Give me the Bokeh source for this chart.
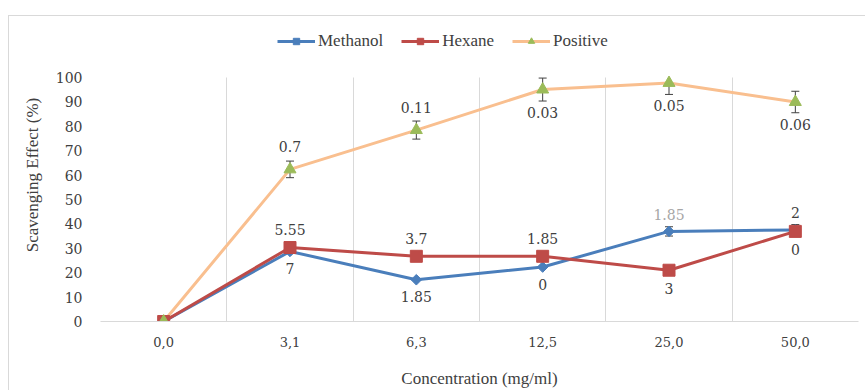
from bokeh.plotting import figure
from bokeh.models import (Range1d, FixedTicker, Legend, LegendItem, Whisker, TeeHead,
                          ColumnDataSource, InlineStyleSheet, Grid)
from bokeh.core.properties import value
from bokeh.embed import file_html
from bokeh.resources import INLINE
import math

# ---------------- data ----------------
categories = ["0,0", "3,1", "6,3", "12,5", "25,0", "50,0"]
methanol = [0, 28.7, 17.1, 22.3, 36.9, 37.5]
hexane = [0, 30.3, 26.7, 26.7, 21.0, 36.9]
positive = [0, 62.3, 78.4, 95.0, 97.7, 89.9]
methanol_err = [0, 0, 0, 0, 1.9, 2.2]
hexane_err = [0, 0, 0, 0, 0, 0]
positive_err = [0, 3.4, 3.7, 4.7, 4.7, 4.4]
methanol_labels = ["", "7", "1.85", "0", "1.85", "2"]
methanol_side = ["", "below", "below", "below", "above", "above"]
hexane_labels = ["", "5.55", "3.7", "1.85", "3", "0"]
hexane_side = ["", "above", "above", "above", "below", "below"]
positive_labels = ["", "0.7", "0.11", "0.03", "0.05", "0.06"]
positive_side = ["", "above", "above", "below", "below", "below"]
y_ticks = list(range(0, 101, 10))

# ---------------- styles ----------------
BLUE = "#4A7EBB"
RED = "#BE4B48"
ORANGE = "#F9BF8F"
GREEN = "#9BBB59"
TXT = "#404040"
GRID = "#D9D9D9"
SERIF = "DejaVu Serif"
TITLE_FONT = "Liberation Serif"

xs = [i + 0.5 for i in range(len(categories))]
y_min, y_max = y_ticks[0], y_ticks[-1]

# frame extends above the value axis to host the legend (legend is clipped to the frame)
p = figure(width=865, height=390, output_backend="svg", toolbar_location=None,
           x_range=Range1d(0, len(categories)), y_range=Range1d(y_min, y_max * 1.2),
           min_border_left=100, min_border_right=7, min_border_top=28, min_border_bottom=68)
p.outline_line_color = None
p.background_fill_color = "white"
p.border_fill_color = "white"
p.stylesheets = [InlineStyleSheet(css=(
    ":host::after { content: ''; position: absolute; left: 8px; top: 15px; "
    "right: -20px; bottom: -20px; border: 1px solid #D9D9D9; pointer-events: none; }"
))]

# axes
p.xaxis.ticker = FixedTicker(ticks=xs)
p.xaxis.major_label_overrides = {x: c for x, c in zip(xs, categories)}
p.xaxis.axis_line_color = GRID
p.xaxis.major_tick_line_color = None
p.xaxis.minor_tick_line_color = None
p.xaxis.major_label_standoff = 9
p.xaxis.major_label_text_font = SERIF
p.xaxis.major_label_text_font_size = "13px"
p.xaxis.major_label_text_color = TXT
p.xaxis.axis_label = "Concentration (mg/ml)"
p.xaxis.axis_label_text_font = TITLE_FONT
p.xaxis.axis_label_text_font_style = "normal"
p.xaxis.axis_label_text_font_size = "17px"
p.xaxis.axis_label_text_color = TXT
p.xaxis.axis_label_standoff = 19

p.yaxis.ticker = FixedTicker(ticks=y_ticks)
p.yaxis.bounds = (y_min, y_max)
p.yaxis.axis_line_color = None
p.yaxis.major_tick_line_color = None
p.yaxis.minor_tick_line_color = None
p.yaxis.major_label_standoff = 12
p.yaxis.major_label_text_font = SERIF
p.yaxis.major_label_text_font_size = "14px"
p.yaxis.major_label_text_color = TXT
p.yaxis.axis_label = "Scavenging Effect (%)"
p.yaxis.axis_label_text_font = TITLE_FONT
p.yaxis.axis_label_text_font_style = "normal"
p.yaxis.axis_label_text_font_size = "17px"
p.yaxis.axis_label_text_color = TXT
p.yaxis.axis_label_standoff = 11

p.ygrid.grid_line_color = None
boundaries = list(range(0, len(categories) + 1))
if "cross_bounds" in Grid.properties():
    p.xgrid.ticker = FixedTicker(ticks=boundaries)
    p.xgrid.cross_bounds = (y_min, y_max)
    p.xgrid.grid_line_color = GRID
    p.xgrid.grid_line_width = 1
else:
    p.xgrid.grid_line_color = None
    p.segment(x0=boundaries, y0=[y_min] * len(boundaries), x1=boundaries,
              y1=[y_max] * len(boundaries), line_color=GRID, line_width=1)

src = ColumnDataSource(dict(x=xs, m=methanol, h=hexane, pz=positive))

# lines
lp = p.line("x", "pz", source=src, color=ORANGE, line_width=3)
lm = p.line("x", "m", source=src, color=BLUE, line_width=3)
lh = p.line("x", "h", source=src, color=RED, line_width=3)

# error bars (only where an error is shown; bars past the axis maximum are cut, no cap)
def add_errors(vals, errs):
    for capped in (True, False):
        idx = [i for i, e in enumerate(errs) if e > 0 and ((vals[i] + e <= y_max) == capped)]
        if not idx:
            continue
        s = ColumnDataSource(dict(
            x=[xs[i] for i in idx],
            lo=[vals[i] - errs[i] for i in idx],
            hi=[min(vals[i] + errs[i], y_max) for i in idx],
        ))
        p.add_layout(Whisker(source=s, base="x", lower="lo", upper="hi",
                             line_color=TXT, line_width=1,
                             upper_head=TeeHead(size=8, line_color=TXT, line_width=1) if capped else None,
                             lower_head=TeeHead(size=8, line_color=TXT, line_width=1)))

add_errors(methanol, methanol_err)
add_errors(hexane, hexane_err)
add_errors(positive, positive_err)

# markers
sm = p.scatter("x", "m", source=src, marker="square", angle=math.pi / 4, size=7.5,
               fill_color=BLUE, line_color=BLUE)
sh = p.scatter("x", "h", source=src, marker="square", size=12, fill_color=RED, line_color=RED)
sp = p.scatter("x", "pz", source=src, marker="triangle", size=12, fill_color=GREEN, line_color=GREEN)

# data labels
def add_labels(vals, labels, sides, dist, colors):
    idx = [i for i, t in enumerate(labels) if t]
    d = dict(
        x=[xs[i] for i in idx],
        y=[vals[i] for i in idx],
        t=[labels[i] for i in idx],
        off=[-dist if sides[i] == "above" else dist for i in idx],
        c=[colors[i] for i in idx],
    )
    p.text("x", "y", text="t", y_offset="off", text_color="c", source=ColumnDataSource(d),
           text_font=value(SERIF), text_font_size="14px", text_align="center",
           text_baseline="middle")

m_colors = [TXT, TXT, TXT, TXT, "#A6A6A6", TXT]
add_labels(methanol, methanol_labels, methanol_side, 17, m_colors)
add_labels(hexane, hexane_labels, hexane_side, 18, [TXT] * len(categories))
add_labels(positive, positive_labels, positive_side, 23, [TXT] * len(categories))

legend = Legend(items=[
    LegendItem(label="Methanol", renderers=[lm, sm]),
    LegendItem(label="Hexane", renderers=[lh, sh]),
    LegendItem(label="Positive", renderers=[lp, sp]),
], location=(177, 270), orientation="horizontal")
legend.label_text_font = TITLE_FONT
legend.label_text_font_size = "17px"
legend.label_text_color = TXT
legend.glyph_width = 38
legend.glyph_height = 16
legend.label_standoff = 3
legend.spacing = 18
legend.padding = 0
legend.margin = 0
legend.border_line_color = None
legend.background_fill_alpha = 0
p.add_layout(legend, "center")

open("out.html", "w").write(file_html(p, INLINE))
